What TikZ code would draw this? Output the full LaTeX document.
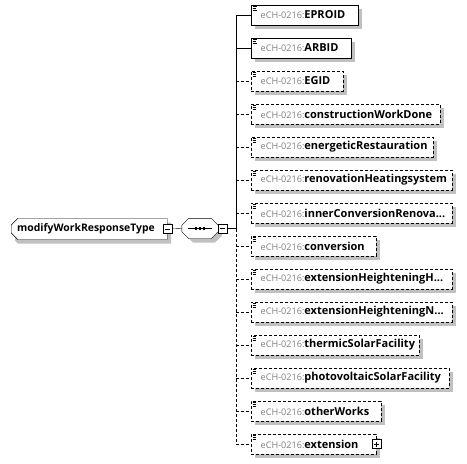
\documentclass[tikz,border=0pt]{standalone}
\usepackage{fontspec}
\setmainfont{Open Sans}
\newfontfamily\nsfont[Color=808080]{Open Sans}
\usetikzlibrary{shapes.misc}
\definecolor{shadowgray}{RGB}{192,192,192}
\tikzset{
  elem/.style={draw, fill=white, anchor=west, minimum height=20pt,
    inner xsep=0pt, inner ysep=0pt, align=left, text width=#1,
    path picture={
      \draw[line width=0.6pt] ([shift={(1.5,1.5)}]path picture bounding box.north west) -- +(4.5,0);
      \draw[line width=0.6pt] ([shift={(1.5,3.2)}]path picture bounding box.north west) -- +(3.5,0);
      \draw[line width=0.6pt] ([shift={(1.5,4.9)}]path picture bounding box.north west) -- +(4.5,0);
    }},
  optelem/.style={elem=#1, dash pattern=on 3pt off 2pt},
  toggle/.style={draw, fill=white, minimum size=9pt, inner sep=0pt},
  minus/.style={toggle,
    path picture={\draw ([xshift=2pt]path picture bounding box.west) -- ([xshift=-2pt]path picture bounding box.east);}},
  plus/.style={toggle,
    path picture={\draw ([xshift=2pt]path picture bounding box.west) -- ([xshift=-2pt]path picture bounding box.east);
      \draw ([yshift=2pt]path picture bounding box.south) -- ([yshift=-2pt]path picture bounding box.north);}},
  ctype/.style={draw, fill=white, chamfered rectangle, chamfered rectangle corners={north west,south west},
    chamfered rectangle xsep=3pt, minimum width=156pt, minimum height=21pt, inner sep=0pt, anchor=west,
    font=\fontsize{10.4}{12}\selectfont\bfseries},
  seqbox/.style={minimum width=36pt, minimum height=20pt, inner sep=0pt},
  shadebox/.style={fill=shadowgray, draw=none}
}
\newcommand{\ech}[1]{\mbox{\hspace*{9.5pt}{\nsfont\fontsize{9.1}{12}\selectfont eCH-0216:}{\fontsize{11}{12}\selectfont\bfseries #1}}}
\begin{document}
\begin{tikzpicture}[x=1pt, y=-1pt]
  \useasboundingbox (0,0) rectangle (467,464);

  % shadows, drawn first
  \fill[shadebox] (15,222.5) -- (171,222.5) -- (171,243.5) -- (18,243.5) -- (15,240.5) -- cycle;
  \fill[shadebox] (193,222.5) -- (215,222.5) -- (222,229.5) -- (222,235.5) -- (215,242.5)
    -- (193,242.5) -- (186,235.5) -- (186,229.5) -- cycle;
  \foreach \w/\y in {107/15,100/48,92/81,189/114,182/147,201/180,201/213,125/246,201/279,201/312,168/345,198/378,130/411,125/444}
    \fill[shadebox] (255,{\y-6}) rectangle ({255+\w},{\y+14});

  % complex type and its sequence
  \node[ctype] (mwrt) at (11,229) {\makebox[144pt][l]{modifyWorkResponseType}};
  \node[minus] (mwrtm) at (mwrt.east) {};
  \node[seqbox] (seq) at (200,228.5) {};
  \draw[fill=white] ([xshift=7pt]seq.north west) -- ([xshift=-7pt]seq.north east)
    -- ([yshift=-7pt]seq.north east) -- ([yshift=7pt]seq.south east) -- ([xshift=-7pt]seq.south east)
    -- ([xshift=7pt]seq.south west) -- ([yshift=7pt]seq.south west) -- ([yshift=-7pt]seq.north west) -- cycle;
  \draw ([xshift=6pt]seq.west) -- ([xshift=-6pt]seq.east);
  \foreach \d in {-4,0,4}
    \fill ([xshift=\d pt]seq.center) +(-1.2,-1.2) rectangle +(1.2,1.2);
  \node[minus, anchor=west] (seqm) at (seq.east) {};

  % spine
  \coordinate (spinetop) at (236,15);
  \coordinate (spinemid) at (236,228.5);
  \coordinate (spinebot) at (236,444);

  % elements
  \node[elem=107pt] (eproid) at (251,15) {\ech{EPROID}};
  \node[elem=100pt] (arbid) at (251,48) {\ech{ARBID}};
  \node[optelem=92pt] (egid) at (251,81) {\ech{EGID}};
  \node[optelem=189pt] (cwd) at (251,114) {\ech{constructionWorkDone}};
  \node[optelem=182pt] (energ) at (251,147) {\ech{energeticRestauration}};
  \node[optelem=201pt] (renov) at (251,180) {\ech{renovationHeatingsystem}};
  \node[optelem=201pt] (inner) at (251,213) {\ech{innerConversionRenova...}};
  \node[optelem=125pt] (conv) at (251,246) {\ech{conversion}};
  \node[optelem=201pt] (exth) at (251,279) {\ech{extensionHeighteningH...}};
  \node[optelem=201pt] (extn) at (251,312) {\ech{extensionHeighteningN...}};
  \node[optelem=168pt] (thermic) at (251,345) {\ech{thermicSolarFacility}};
  \node[optelem=198pt] (photo) at (251,378) {\ech{photovoltaicSolarFacility}};
  \node[optelem=130pt] (other) at (251,411) {\ech{otherWorks}};
  \node[optelem=125pt] (ext) at (251,444) {\ech{extension}};
  \node[plus] (extp) at (ext.east) {};

  % connectors
  \draw (mwrtm) -- (seq.west);
  \draw (seqm) -- (spinemid);
  \draw (spinetop) -- (spinemid);
  \draw[dash pattern=on 3pt off 2pt] (spinemid) -- (spinebot);
  \draw (spinetop) -- (eproid.west);
  \draw (arbid.west -| spinetop) -- (arbid.west);
  \foreach \n in {egid,cwd,energ,renov,inner,conv,exth,extn,thermic,photo,other,ext}
    \draw[dash pattern=on 3pt off 2pt] (\n.west -| spinetop) -- (\n.west);
\end{tikzpicture}
\end{document}
